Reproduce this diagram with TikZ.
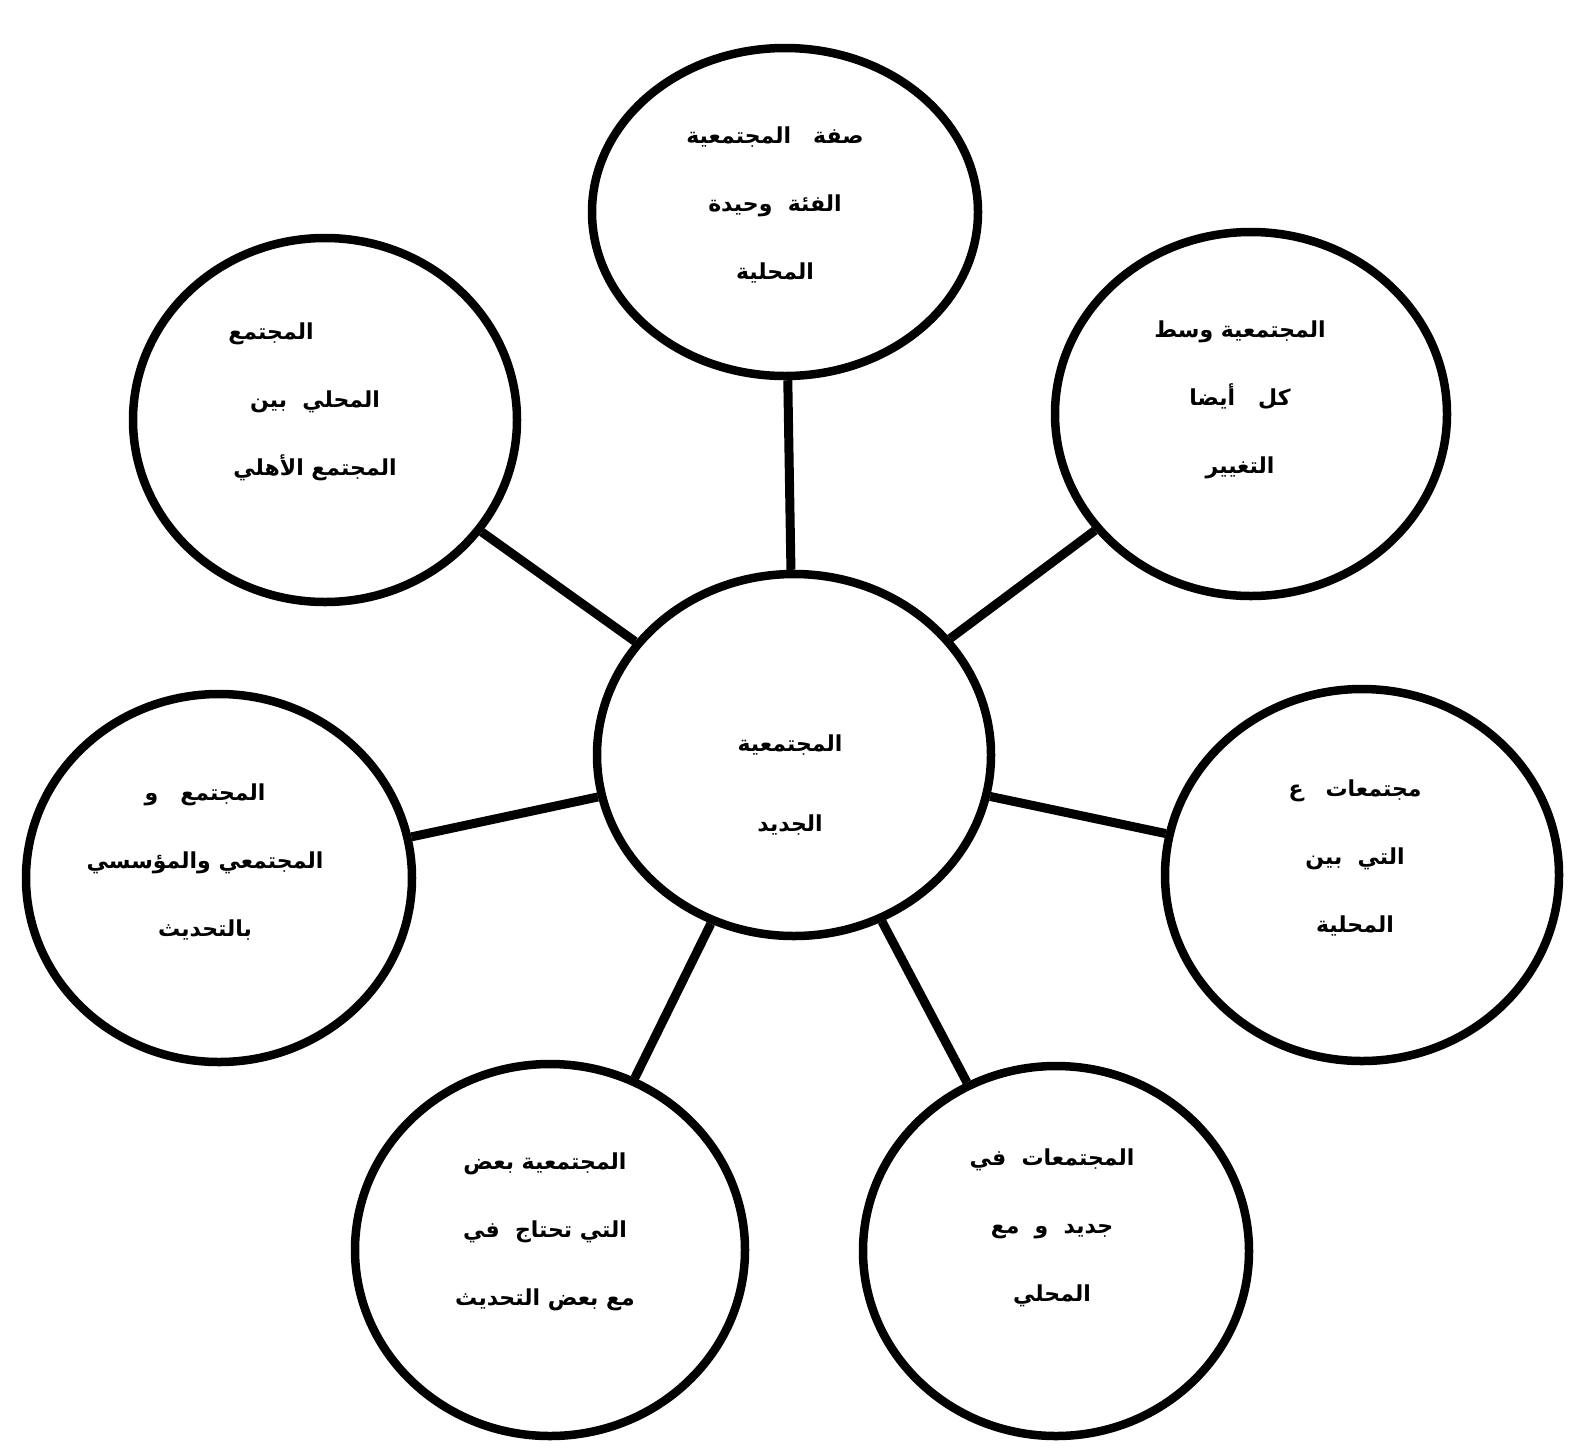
\documentclass[tikz,border=0pt]{standalone}
\usepackage{fontspec}
\newfontfamily\arabicfont[Script=Arabic]{DejaVu Sans}
\TeXXeTstate=1
\usetikzlibrary{shapes.geometric}
\newcommand{\arline}[1]{\beginR #1\endR}
\begin{document}
\begin{tikzpicture}[x=1pt,y=-1pt,
  bubble/.style={ellipse, draw=black, line width=8.5pt, inner sep=0pt},
  conn/.style={draw=black, line width=9pt, line cap=butt},
  txt/.style={align=center, font=\arabicfont\bfseries\fontsize{22}{68}\selectfont, inner sep=0pt}]
\useasboundingbox[fill=white] (0,0) rectangle (1573,1449);

\node[bubble, minimum width=386pt, minimum height=328pt] (top) at (785,212) {};
\node[bubble, minimum width=384pt, minimum height=364pt] (ul) at (325,420) {};
\node[bubble, minimum width=392pt, minimum height=364pt] (ur) at (1251,414) {};
\node[bubble, minimum width=394pt, minimum height=362pt] (c) at (794,755) {};
\node[bubble, minimum width=386pt, minimum height=368pt] (l) at (219,878) {};
\node[bubble, minimum width=394pt, minimum height=372pt] (r) at (1362,875) {};
\node[bubble, minimum width=390pt, minimum height=372pt] (bl) at (550,1250) {};
\node[bubble, minimum width=386pt, minimum height=370pt] (br) at (1056,1251) {};

\draw[conn] (c) -- (top);
\draw[conn] (c) -- (ul);
\draw[conn] (c) -- (ur);
\draw[conn] (c) -- (l);
\draw[conn] (c) -- (r);
\draw[conn] (c) -- (bl);
\draw[conn] (c) -- (br);

\node[txt] (ttop) at (775,205) {\arline{صفة\quad المجتمعية}\\\arline{الفئة\ \ وحيدة}\\\arline{المحلية}};
\node[txt] (tul) at (315,402) {\arline{\qquad\qquad المجتمع}\\\arline{المحلي\ \ بين}\\\arline{المجتمع الأهلي}};
\node[txt] (tur) at (1240,400) {\arline{المجتمعية وسط}\\\arline{كل\ \ \ أيضا}\\\arline{التغيير}};
\node[txt, font=\arabicfont\bfseries\fontsize{22}{80}\selectfont] (tc) at (790,785) {\arline{المجتمعية}\\\arline{الجديد}};
\node[txt] (tl) at (205,862) {\arline{المجتمع\quad و}\\\arline{المجتمعي والمؤسسي}\\\arline{بالتحديث}};
\node[txt] (tr) at (1355,858) {\arline{مجتمعات\quad ع}\\\arline{التي\ \ بين}\\\arline{المحلية}};
\node[txt] (tbl) at (545,1232) {\arline{المجتمعية بعض}\\\arline{التي تحتاج\ \ في}\\\arline{مع بعض التحديث}};
\node[txt] (tbr) at (1052,1228) {\arline{المجتمعات\ \ في}\\\arline{جديد\ \ و\ \ مع}\\\arline{المحلي}};
\end{tikzpicture}
\end{document}
